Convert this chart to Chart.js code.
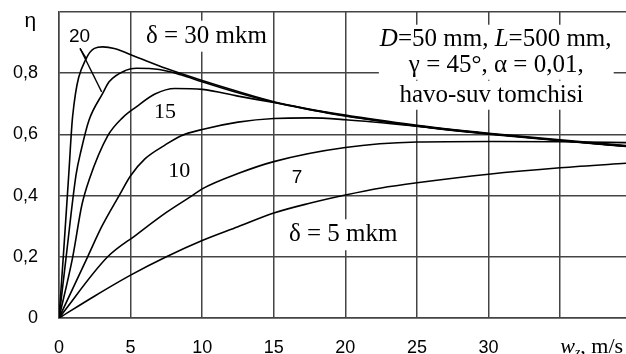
<!DOCTYPE html>
<html>
<head>
<meta charset="utf-8">
<script src="https://cdn.jsdelivr.net/npm/chart.js@4.4.0/dist/chart.umd.min.js"></script>
<style>
  html, body { margin: 0; padding: 0; background: #fff; overflow: hidden; }
  canvas { display: block; }
</style>
</head>
<body>
<canvas id="chart" width="626" height="354"></canvas>
<script>
// droplet sizes, mkm
const deltas = [30, 20, 15, 10, 7, 5];

// w_z (m/s) and eta, one pair of arrays per curve
const w30 = [0, 0.3, 0.68, 0.95, 1.9, 3.05, 3.86, 5.4, 7.5, 10, 12.5, 15, 20, 25, 30, 35, 40];
const eta30 = [0, 0.2, 0.468, 0.658, 0.848, 0.886, 0.881, 0.853, 0.815, 0.776, 0.74, 0.707, 0.663, 0.63, 0.604, 0.582, 0.562];

const w20 = [0, 0.5, 1.19, 1.55, 2.1, 3.05, 3.5, 4.7, 5.4, 7, 8.5, 10, 12.5, 15, 20, 25, 30, 35, 40];
const eta20 = [0, 0.2, 0.468, 0.549, 0.647, 0.734, 0.772, 0.81, 0.816, 0.812, 0.795, 0.772, 0.736, 0.705, 0.661, 0.628, 0.602, 0.58, 0.56];

const w15 = [0, 0.96, 1.6, 2.1, 3.4, 4.45, 5.4, 6.7, 8.1, 10, 12.5, 15, 20, 25, 30, 35, 40];
const eta15 = [0, 0.2, 0.37, 0.451, 0.595, 0.655, 0.69, 0.732, 0.75, 0.747, 0.725, 0.704, 0.66, 0.627, 0.601, 0.579, 0.559];

const w10 = [0, 2.0, 3.0, 4.2, 5.0, 6, 7.4, 8.5, 10, 12.5, 15, 17.5, 20, 25, 30, 35, 40];
const eta10 = [0, 0.2, 0.3, 0.4, 0.465, 0.52, 0.565, 0.595, 0.616, 0.64, 0.652, 0.654, 0.648, 0.627, 0.602, 0.58, 0.56];

const w7 = [0, 3.4, 5.4, 7.5, 9.3, 10, 12.5, 15, 20, 25, 30, 35, 40];
const eta7 = [0, 0.2, 0.272, 0.345, 0.4, 0.422, 0.472, 0.511, 0.557, 0.575, 0.577, 0.576, 0.573];

const w5 = [0, 2.5, 5, 7.5, 10, 12.5, 15, 17.5, 20, 22.5, 25, 30, 35, 40];
const eta5 = [0, 0.072, 0.14, 0.2, 0.253, 0.298, 0.343, 0.375, 0.402, 0.425, 0.442, 0.47, 0.491, 0.507];

// axis ticks
const xTickValues = [0, 5, 10, 15, 20, 25, 30, 35];
const yTickValues = [0, 0.2, 0.4, 0.6, 0.8, 1.0];

const serif = '"Liberation Serif", "Times New Roman", serif';
const sans = '"Liberation Sans", Arial, sans-serif';

function pairs(xs, ys) {
  return xs.map((x, i) => ({ x: x, y: ys[i] }));
}

const curves = [[w30, eta30], [w20, eta20], [w15, eta15], [w10, eta10], [w7, eta7], [w5, eta5]];

// text labels placed in data units
const labels = [
  { runs: [{ t: '20' }], x: 1.43, y: 0.919, font: sans, size: 19, bg: false },
  { runs: [{ t: 'δ = 30 mkm' }], x: 10.3, y: 0.921, font: serif, size: 25, bg: true, padX: 4, padY: 3 },
  { runs: [{ t: '15' }], x: 7.41, y: 0.673, font: serif, size: 22, bg: false },
  { runs: [{ t: '10' }], x: 8.39, y: 0.481, font: serif, size: 22, bg: false },
  { runs: [{ t: '7' }], x: 16.63, y: 0.458, font: sans, size: 19, bg: false },
  { runs: [{ t: 'δ = 5 mkm' }], x: 19.85, y: 0.272, font: serif, size: 25, bg: true, padX: 3, padY: 3 },
  { runs: [{ t: 'D', it: true }, { t: '=50 mm, ' }, { t: 'L', it: true }, { t: '=500 mm,' }], x: 30.5, y: 0.911, font: serif, size: 25, bg: true, padX: 3, padY: 2 },
  { runs: [{ t: 'γ = 45°, α = 0,01,' }], x: 30.54, y: 0.826, font: serif, size: 25, bg: true, padX: 30, padY: 2 },
  { runs: [{ t: 'havo-suv tomchisi' }], x: 30.2, y: 0.728, font: serif, size: 25, bg: true, padX: 3, padY: 2 },
  { runs: [{ t: 'η' }], x: -2.0, y: 0.97, font: sans, size: 21, bg: false },
  { runs: [{ t: 'w', it: true }, { t: 'z', it: true, sub: true }, { t: ', m/s' }], x: 37.2, y: -0.094, font: serif, size: 22, bg: false }
];

// leader lines from the "20" label
const leaders = [
  [{ x: 1.47, y: 0.881 }, { x: 1.94, y: 0.845 }],
  [{ x: 1.47, y: 0.881 }, { x: 2.98, y: 0.739 }]
];

function runFont(r, l) {
  const size = r.sub ? Math.round(l.size * 0.62) : l.size;
  return (r.it ? 'italic ' : '') + size + 'px ' + l.font;
}

const labelPlugin = {
  id: 'labels',
  afterDatasetsDraw(chart) {
    const ctx = chart.ctx;
    const xs = chart.scales.x, ys = chart.scales.y;
    ctx.save();
    ctx.strokeStyle = '#000';
    ctx.lineWidth = 1.3;
    leaders.forEach(seg => {
      ctx.beginPath();
      ctx.moveTo(xs.getPixelForValue(seg[0].x), ys.getPixelForValue(seg[0].y));
      ctx.lineTo(xs.getPixelForValue(seg[1].x), ys.getPixelForValue(seg[1].y));
      ctx.stroke();
    });
    ctx.textBaseline = 'middle';
    ctx.textAlign = 'left';
    labels.forEach(l => {
      const cx = xs.getPixelForValue(l.x);
      const cy = ys.getPixelForValue(l.y);
      let total = 0;
      const widths = l.runs.map(r => {
        ctx.font = runFont(r, l);
        const w = ctx.measureText(r.t).width;
        total += w;
        return w;
      });
      let x = cx - total / 2;
      if (l.bg) {
        ctx.fillStyle = '#fff';
        ctx.fillRect(x - l.padX, cy - l.size / 2 - l.padY, total + 2 * l.padX, l.size + 2 * l.padY);
      }
      ctx.fillStyle = '#000';
      l.runs.forEach((r, i) => {
        ctx.font = runFont(r, l);
        ctx.fillText(r.t, x, r.sub ? cy + l.size * 0.28 : cy);
        x += widths[i];
      });
    });
    ctx.restore();
  }
};

const ctx = document.getElementById('chart').getContext('2d');
const chart = new Chart(ctx, {
  type: 'scatter',
  data: {
    datasets: curves.map((c, i) => ({
      label: 'δ = ' + deltas[i] + ' mkm',
      data: pairs(c[0], c[1]),
      showLine: true,
      borderColor: '#000',
      borderWidth: 1.6,
      pointRadius: 0,
      cubicInterpolationMode: 'monotone',
      fill: false
    }))
  },
  options: {
    responsive: false,
    animation: false,
    layout: { padding: { top: 12, right: 0, bottom: 0, left: 0 } },
    plugins: {
      legend: { display: false },
      tooltip: { enabled: false }
    },
    scales: {
      x: {
        type: 'linear',
        min: 0,
        max: 39.6,
        afterBuildTicks: scale => {
          scale.ticks = xTickValues.map(v => ({ value: v }));
        },
        afterFit: scale => {
          scale.height = 36;
          scale.paddingLeft = 0;
          scale.paddingRight = 0;
        },
        grid: { color: '#444', lineWidth: 1.5, drawTicks: false },
        border: { color: '#444', width: 1.5 },
        ticks: {
          padding: 19,
          color: '#000',
          font: { family: sans, size: 18 },
          maxRotation: 0,
          callback: v => (v >= 35 ? '' : String(v))
        }
      },
      y: {
        type: 'linear',
        min: 0,
        max: 1,
        afterBuildTicks: scale => {
          scale.ticks = yTickValues.map(v => ({ value: v }));
        },
        afterFit: scale => {
          scale.width = 59;
          scale.paddingTop = 0;
          scale.paddingBottom = 0;
        },
        grid: { color: '#444', lineWidth: 1.5, drawTicks: false },
        border: { color: '#444', width: 1.5 },
        ticks: {
          padding: 21,
          color: '#000',
          font: { family: sans, size: 18 },
          callback: v => (v === 0 ? '0' : v >= 1 ? '' : v.toFixed(1).replace('.', ','))
        }
      }
    }
  },
  plugins: [labelPlugin]
});
</script>
</body>
</html>
